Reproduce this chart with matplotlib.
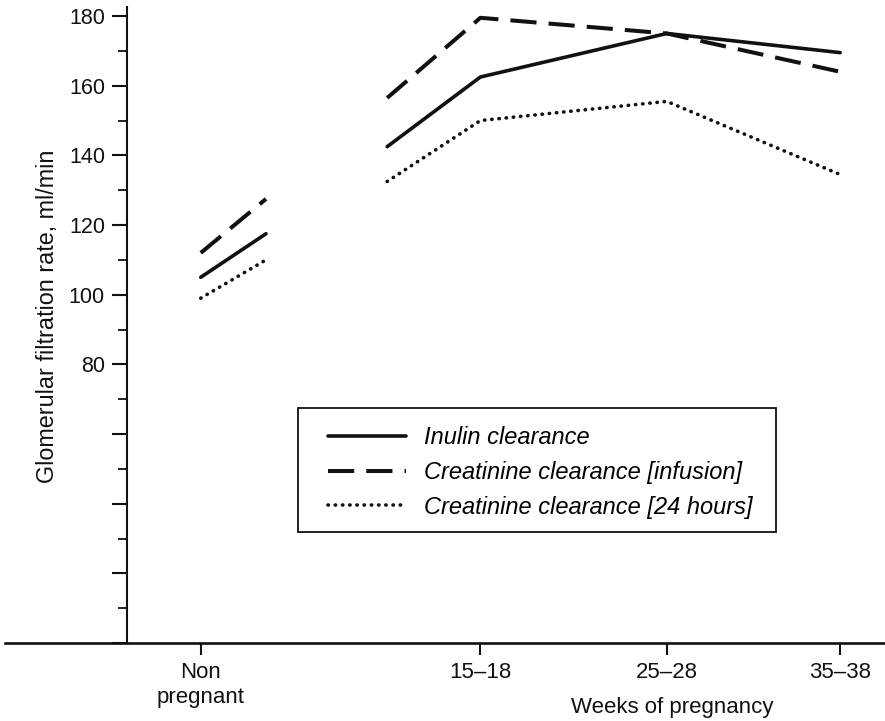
import matplotlib
matplotlib.use('Agg')
import matplotlib.pyplot as plt
from matplotlib.patches import Rectangle
from matplotlib.ticker import FixedLocator, FuncFormatter

plt.rcParams['font.family'] = ['Liberation Sans', 'DejaVu Sans']

# x positions on an arbitrary scale (non pregnant = 0)
tick_pos = [0, 3, 5, 6.86]
tick_labels = ['Non\npregnant', '15\u201318', '25\u201328', '35\u201338']

# non pregnant: short sloped segments
np_x = [0, 0.7]
inulin_np = [105, 117.5]
creat_inf_np = [112, 127.5]
creat_24_np = [99, 110]

# pregnancy
preg_x = [2.0, 3, 5, 6.86]
inulin_preg = [142.5, 162.5, 175, 169.5]
creat_inf_preg = [156.5, 179.5, 175, 164]
creat_24_preg = [132.5, 150, 155.5, 134.5]

labels = ['Inulin clearance', 'Creatinine clearance [infusion]',
          'Creatinine clearance [24 hours]']

fig = plt.figure(figsize=(8.85, 7.21), dpi=100)
ax = fig.add_axes([5 / 885, 1 - 643 / 721, 879 / 885, 636 / 721])

ink = '#111111'
solid = dict(color=ink, lw=2.6, solid_capstyle='round')
dashed = dict(color=ink, lw=2.9, dashes=(6.5, 3), dash_capstyle='butt')
dotted = dict(color=ink, lw=2.6, dashes=(0.1, 1.9), dash_capstyle='round')

ax.plot(np_x, inulin_np, **solid)
ax.plot(np_x, creat_inf_np, **dashed)
ax.plot(np_x, creat_24_np, **dotted)
l1, = ax.plot(preg_x, inulin_preg, **solid)
l2, = ax.plot(preg_x, creat_inf_preg, **dashed)
l3, = ax.plot(preg_x, creat_24_preg, **dotted)

ax.set_xlim(-2.1, 7.33)
ax.set_ylim(0, 182.6)

for s in ['top', 'right']:
    ax.spines[s].set_visible(False)
ax.spines['left'].set_position(('data', -0.79))
ax.spines['left'].set_linewidth(1.5)
ax.spines['bottom'].set_linewidth(1.9)
ax.spines['left'].set_color(ink)
ax.spines['bottom'].set_color(ink)

ax.yaxis.set_major_locator(FixedLocator(range(0, 181, 20)))
ax.yaxis.set_minor_locator(FixedLocator(range(10, 180, 20)))
ax.yaxis.set_major_formatter(FuncFormatter(lambda v, p: f'{int(v)}' if v >= 80 else ''))
ax.tick_params(axis='y', which='major', length=11, width=1.5, pad=5,
               labelsize=15.5, colors=ink)
ax.tick_params(axis='y', which='minor', length=6.5, width=1.3, colors=ink)

ax.set_xticks(tick_pos)
ax.set_xticklabels(tick_labels)
ax.tick_params(axis='x', length=8.5, width=1.5, pad=5.5, labelsize=16, colors=ink)

ax.set_ylabel('Glomerular filtration rate, ml/min', fontsize=16.8, color=ink)
ax.yaxis.set_label_coords(0.061, 0.514)
ax.set_xlabel('Weeks of pregnancy', fontsize=16, color=ink)
ax.xaxis.set_label_coords(0.759, -0.085)

# legend with a plain box drawn by hand
leg = fig.legend([l1, l2, l3], labels, loc='upper left',
                 bbox_to_anchor=(328 / 885, 1 - 426 / 721),
                 frameon=False, borderpad=0, borderaxespad=0,
                 handlelength=3.3, handletextpad=0.75, labelspacing=0.5,
                 prop={'size': 17, 'style': 'italic'})
fig.patches.append(Rectangle((298 / 885, 1 - 532 / 721), 478 / 885, 124 / 721,
                             transform=fig.transFigure, fill=False,
                             edgecolor=ink, lw=1.3))

fig.savefig('out.png', dpi=100)
